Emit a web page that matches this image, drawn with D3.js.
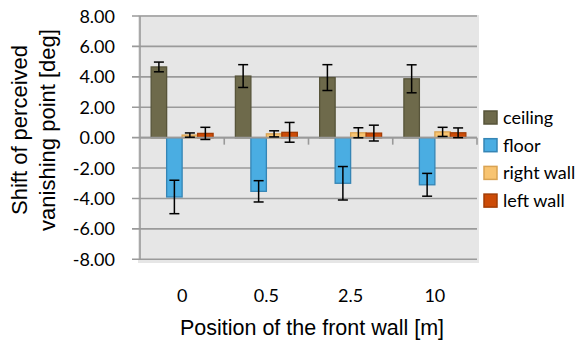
<!DOCTYPE html>
<html>
<head>
<meta charset="utf-8">
<script src="https://cdn.jsdelivr.net/npm/d3@7"></script>
<style>
  body { margin: 0; background: #fff; }
  svg { display: block; }
</style>
</head>
<body>
<script>
var categories = ["0", "0.5", "2.5", "10"];
var seriesNames = ["ceiling", "floor", "right wall", "left wall"];
var ceiling = [4.65, 4.05, 3.95, 3.87];
var ceilingErr = [0.32, 0.75, 0.85, 0.92];
var floor = [-3.9, -3.53, -3.0, -3.1];
var floorErr = [1.1, 0.7, 1.1, 0.75];
var rightWall = [0.17, 0.25, 0.32, 0.38];
var rightWallErr = [0.14, 0.2, 0.33, 0.3];
var leftWall = [0.28, 0.35, 0.3, 0.32];
var leftWallErr = [0.4, 0.65, 0.52, 0.32];
var yTicks = [8, 6, 4, 2, 0, -2, -4, -6, -8];

var fills = ["#6e6a4b", "#4aade2", "#f8c471", "#cc4b07"];
var strokes = ["#57543a", "#3585b5", "#d9a352", "#a33c05"];

var width = 582,
    height = 340;

var svg = d3.select("body").append("svg")
    .attr("width", width)
    .attr("height", height)

var x = d3.scaleBand().domain(categories).range([140, 477]);
var xs = d3.scaleBand().domain(seriesNames).range([0, x.bandwidth()]).paddingOuter(0.72);
var y = d3.scaleLinear().domain([-8, 8]).range([259.3, 16]);

var values = [ceiling, floor, rightWall, leftWall];
var errs = [ceilingErr, floorErr, rightWallErr, leftWallErr];
var rows = [];
seriesNames.forEach(function (s, i) {
    categories.forEach(function (c, j) {
        rows.push({ cat: c, s: s, i: i, v: values[i][j], e: errs[i][j] });
    });
});

// plot background
svg.append("rect")
    .attr("x", 138).attr("y", 15)
    .attr("width", 341).attr("height", 248)
    .attr("fill", "#e6e6e6")

// gridlines + y ticks
svg.selectAll("line.grid")
    .data(yTicks)
    .enter().append("line")
    .attr("x1", 132).attr("x2", 477)
    .attr("y1", function (d) { return y(d) }).attr("y2", function (d) { return y(d) })
    .attr("stroke", "#9a9a9a").attr("stroke-width", 1.6)

svg.append("line")
    .attr("x1", 140).attr("x2", 140)
    .attr("y1", y(8)).attr("y2", y(-8))
    .attr("stroke", "#9a9a9a").attr("stroke-width", 1.6)

svg.selectAll("text.ytick")
    .data(yTicks)
    .enter().append("text")
    .attr("x", 115)
    .attr("y", function (d) { return y(d) + 6.5 })
    .attr("text-anchor", "end")
    .style("font-family", "Lato, sans-serif").style("font-size", "18px")
    .attr("fill", "#000")
    .text(function (d) { return d.toFixed(2) })

// bars
svg.selectAll("rect.bar")
    .data(rows)
    .enter().append("rect")
    .attr("x", function (d) { return x(d.cat) + xs(d.s) })
    .attr("width", xs.bandwidth())
    .attr("y", function (d) { return y(Math.max(0, d.v)) })
    .attr("height", function (d) { return Math.abs(y(d.v) - y(0)) })
    .attr("fill", function (d) { return fills[d.i] })
    .attr("stroke", function (d) { return strokes[d.i] })
    .attr("stroke-width", 1.3)

// category axis on zero
svg.append("line")
    .attr("x1", 140).attr("x2", 477)
    .attr("y1", y(0)).attr("y2", y(0))
    .attr("stroke", "#9a9a9a").attr("stroke-width", 1.6)

svg.selectAll("line.xtick")
    .data(categories)
    .enter().append("line")
    .attr("x1", function (d) { return x(d) + x.bandwidth() }).attr("x2", function (d) { return x(d) + x.bandwidth() })
    .attr("y1", y(0)).attr("y2", y(0) + 7)
    .attr("stroke", "#9a9a9a").attr("stroke-width", 1.6)

// error bars
var eb = svg.selectAll("g.err")
    .data(rows)
    .enter().append("g")
    .attr("transform", function (d) { return "translate(" + (x(d.cat) + xs(d.s) + xs.bandwidth() / 2) + ",0)" })

eb.append("line")
    .attr("y1", function (d) { return y(d.v + d.e) }).attr("y2", function (d) { return y(d.v - d.e) })
    .attr("stroke", "#000").attr("stroke-width", 1.5)
eb.append("line")
    .attr("x1", -5).attr("x2", 5)
    .attr("y1", function (d) { return y(d.v + d.e) }).attr("y2", function (d) { return y(d.v + d.e) })
    .attr("stroke", "#000").attr("stroke-width", 1.5)
eb.append("line")
    .attr("x1", -5).attr("x2", 5)
    .attr("y1", function (d) { return y(d.v - d.e) }).attr("y2", function (d) { return y(d.v - d.e) })
    .attr("stroke", "#000").attr("stroke-width", 1.5)

// x labels
svg.selectAll("text.xlab")
    .data(categories)
    .enter().append("text")
    .attr("x", function (d) { return x(d) + x.bandwidth() / 2 })
    .attr("y", 302)
    .attr("text-anchor", "middle")
    .style("font-family", "Lato, sans-serif").style("font-size", "18px")
    .text(function (d) { return d })

// axis titles
svg.append("text")
    .attr("x", 312).attr("y", 335)
    .attr("text-anchor", "middle")
    .style("font-family", "'Liberation Sans', Arial, sans-serif").style("font-size", "21.5px")
    .text("Position of the front wall [m]")

var yt = svg.append("text")
    .attr("transform", "translate(0,130) rotate(-90)")
    .attr("text-anchor", "middle")
    .style("font-family", "'Liberation Sans', Arial, sans-serif").style("font-size", "22px")
yt.append("tspan").attr("x", 0).attr("y", 27).text("Shift of perceived")
yt.append("tspan").attr("x", 0).attr("y", 55).text("vanishing point [deg]")

// legend
var leg = svg.selectAll("g.leg")
    .data(seriesNames)
    .enter().append("g")
    .attr("transform", function (d, i) { return "translate(484," + (111 + i * 27.7) + ")" })

leg.append("rect")
    .attr("width", 13).attr("height", 13)
    .attr("fill", function (d, i) { return fills[i] })
    .attr("stroke", function (d, i) { return strokes[i] })
    .attr("stroke-width", 1.5)

leg.append("text")
    .attr("x", 19).attr("y", 13)
    .style("font-family", "Lato, sans-serif").style("font-size", "18px")
    .text(function (d) { return d })
</script>
</body>
</html>
